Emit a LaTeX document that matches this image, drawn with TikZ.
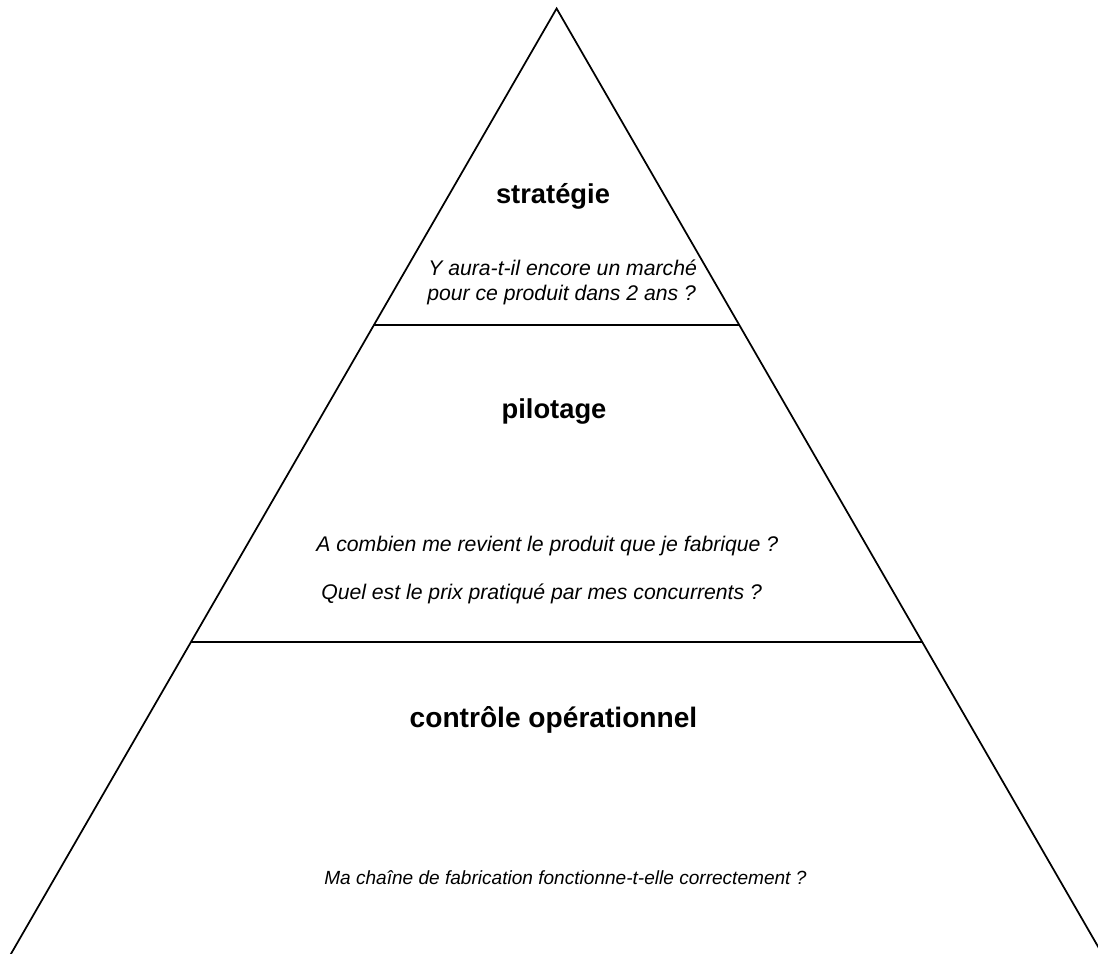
\documentclass[tikz,border=0pt]{standalone}
\usepackage{fontspec}
\setmainfont{Liberation Sans}
\begin{document}
\begin{tikzpicture}[x=0.75pt,y=-0.75pt,
  edge/.style={line width=1.3pt, draw=black},
  title/.style={font=\bfseries\fontsize{20.5}{24}\selectfont, inner sep=0pt, anchor=base},
  question/.style={font=\itshape\fontsize{15.9}{19}\selectfont, inner sep=0pt, anchor=base west},
  smallquestion/.style={question, font=\itshape\fontsize{14.3}{17}\selectfont}]
\useasboundingbox (0,0) rectangle (1098,953);
\clip (0,0) rectangle (1098,953);
% pyramid outline
\coordinate (apex) at (556.6,8.5);
\coordinate (bl) at (-9.3,989);
\coordinate (br) at (1122.5,989);
\draw[edge, line join=miter] (bl) -- (apex) -- (br);
% level separators
\coordinate (l1) at (374.2,325);
\coordinate (r1) at (738.8,325);
\coordinate (l2) at (191.4,641.7);
\coordinate (r2) at (921.6,641.7);
\draw[edge] (l1) -- (r1);
\draw[edge] (l2) -- (r2);
% texts
\node[title] (t1) at (553,203) {stratégie};
\node[question] (q1a) at (428,275.5) {Y aura-t-il encore un marché};
\node[question] (q1b) at (427,300.5) {pour ce produit dans 2 ans ?};
\node[title] (t2) at (554,418) {pilotage};
\node[question] (q2a) at (316,551) {A combien me revient le produit que je fabrique ?};
\node[question] (q2b) at (321,599) {Quel est le prix pratiqué par mes concurrents ?};
\node[title, font=\bfseries\fontsize{21.1}{25}\selectfont] (t3) at (553.5,727) {contrôle opérationnel};
\node[smallquestion] (q3) at (324,884) {Ma chaîne de fabrication fonctionne-t-elle correctement ?};
\end{tikzpicture}
\end{document}
